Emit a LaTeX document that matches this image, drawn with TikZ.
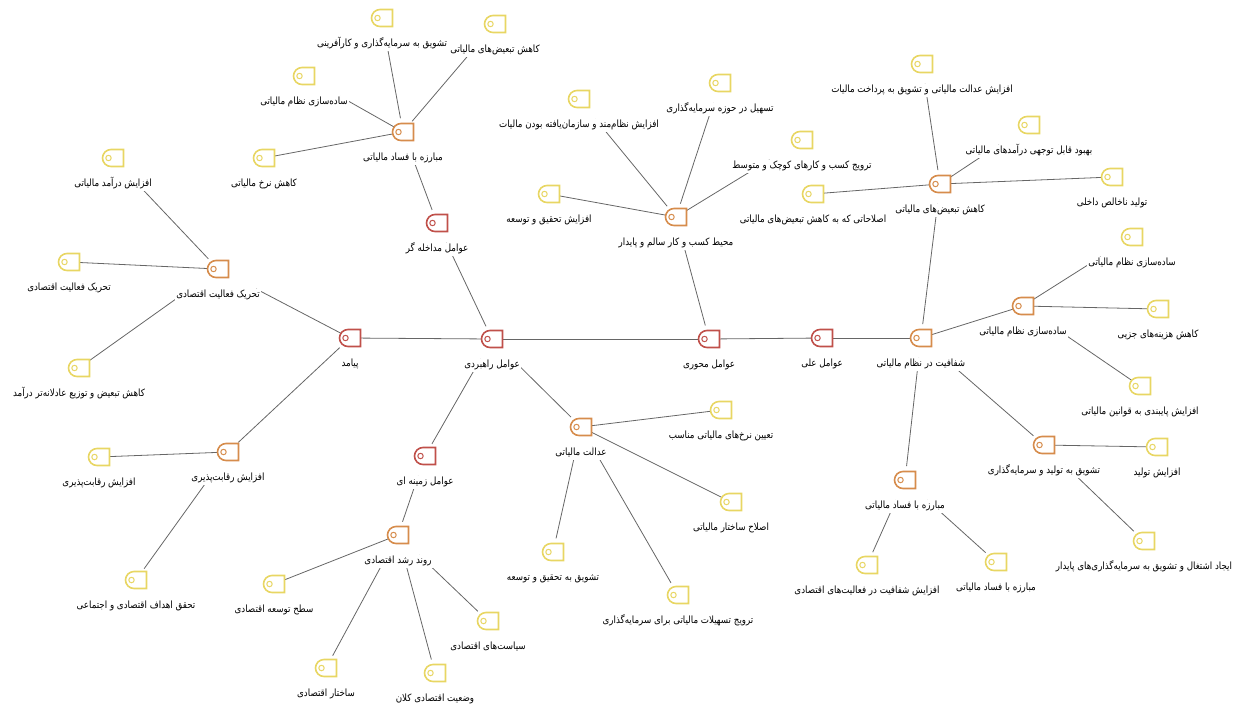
\documentclass[tikz,border=0pt]{standalone}
\usepackage{fontspec}
\usetikzlibrary{shapes.misc,backgrounds}
\TeXXeTstate=1
\newfontfamily\arabicfont[Script=Arabic,FakeStretch=0.87]{DejaVu Sans}
\definecolor{rootcol}{HTML}{C0504A}
\definecolor{midcol}{HTML}{D68C4C}
\definecolor{leafcol}{HTML}{E8D663}
\begin{document}
\begin{tikzpicture}[x=1pt,y=-1pt,
  icon/.style ={rounded rectangle, rounded rectangle right arc=none, fill=white, draw=#1,
  line width=1.6pt, minimum width=21pt, minimum height=17pt, inner sep=0pt,
  path picture={\draw[#1, line width=1pt] ([xshift=-4.5pt]path picture bounding box.center) circle (2.7pt);}},
  root/.style ={icon=rootcol},
  mid/.style ={icon=midcol},
  leaf/.style ={icon=leafcol},
  tag/.style ={fill=white, text=black, inner sep=1pt, text height=8pt, text depth=3.5pt,
  font=\arabicfont\fontsize{10}{12}\selectfont},
  every label/.style ={tag, label distance=10pt},
  link/.style ={draw=black!60, line width=0.8pt},
  from/.style ={shorten <=#1pt},
  low/.style ={shorten >=14pt}]
  \useasboundingbox (0,0) rectangle (1234,705);
  \node[root, label=below:\beginR پیامد\endR] (P) at (350,338) {};
  \node[root, label=below:\beginR عوامل راهبردی\endR] (R) at (492,339) {};
  \node[root, label=below:\beginR عوامل محوری\endR] (M) at (709,339) {};
  \node[root, label=below:\beginR عوامل علی\endR] (A) at (822,338) {};
  \node[mid, label=below:\beginR شفافیت در نظام مالیاتی\endR] (S) at (921,338) {};
  \node[root, label=below:\beginR عوامل مداخله گر\endR] (D) at (437,223) {};
  \node[root, label=below:\beginR عوامل زمینه ای\endR] (Z) at (425,456) {};
  \node[mid, label=below:\beginR مبارزه با فساد مالیاتی\endR] (D1) at (403,132) {};
  \node[leaf, label=below:\beginR ساده‌سازی نظام مالیاتی\endR] (D11) at (304,76) {};
  \node[leaf, label=below:\beginR تشویق به سرمایه‌گذاری و کارآفرینی\endR] (D12) at (382,18) {};
  \node[leaf, label=below:\beginR کاهش تبعیض‌های مالیاتی\endR] (D13) at (495,24) {};
  \node[leaf, label=below:\beginR کاهش نرخ مالیاتی\endR] (D14) at (264,158) {};
  \node[mid, label=below:\beginR تحریک فعالیت اقتصادی\endR] (P1) at (218,269) {};
  \node[leaf, label=below:\beginR افزایش درآمد مالیاتی\endR] (P11) at (113,158) {};
  \node[leaf, label=below:\beginR تحریک فعالیت اقتصادی\endR] (P12) at (69,262) {};
  \node[leaf, label=below:\beginR کاهش تبعیض و توزیع عادلانه‌تر درآمد\endR] (P13) at (79,368) {};
  \node[mid, label=below:\beginR افزایش رقابت‌پذیری\endR] (P2) at (228,452) {};
  \node[leaf, label=below:\beginR افزایش رقابت‌پذیری\endR] (P21) at (99,457) {};
  \node[leaf, label=below:\beginR تحقق اهداف اقتصادی و اجتماعی\endR] (P22) at (136,580) {};
  \node[mid, label=below:\beginR روند رشد اقتصادی\endR] (Z1) at (398,535) {};
  \node[leaf, label=below:\beginR سطح توسعه اقتصادی\endR] (Z11) at (274,584) {};
  \node[leaf, label=below:\beginR سیاست‌های اقتصادی\endR] (Z12) at (488,621) {};
  \node[leaf, label=below:\beginR ساختار اقتصادی\endR] (Z13) at (326,668) {};
  \node[leaf, label=below:\beginR وضعیت اقتصادی کلان\endR] (Z14) at (435,673) {};
  \node[mid, label=below:\beginR عدالت مالیاتی\endR] (R1) at (581,427) {};
  \node[leaf, label=below:\beginR تعیین نرخ‌های مالیاتی مناسب\endR] (R11) at (721,410) {};
  \node[leaf, label=below:\beginR اصلاح ساختار مالیاتی\endR] (R12) at (731,502) {};
  \node[leaf, label=below:\beginR ترویج تسهیلات مالیاتی برای سرمایه‌گذاری\endR] (R13) at (678,595) {};
  \node[leaf, label=below:\beginR تشویق به تحقیق و توسعه\endR] (R14) at (553,552) {};
  \node[mid, label=below:\beginR محیط کسب و کار سالم و پایدار\endR] (M1) at (676,217) {};
  \node[leaf, label=below:\beginR افزایش تحقیق و توسعه\endR] (M11) at (549,194) {};
  \node[leaf, label=below:\beginR افزایش نظام‌مند و سازمان‌یافته بودن مالیات\endR] (M12) at (579,99) {};
  \node[leaf, label=below:\beginR تسهیل در حوزه سرمایه‌گذاری\endR] (M13) at (720,83) {};
  \node[leaf, label=below:\beginR ترویج کسب و کارهای کوچک و متوسط\endR] (M14) at (802,140) {};
  \node[mid, label=below:\beginR کاهش تبعیض‌های مالیاتی\endR] (S1) at (940,184) {};
  \node[leaf, label=below:\beginR اصلاحاتی که به کاهش تبعیض‌های مالیاتی\endR] (S11) at (813,194) {};
  \node[leaf, label=below:\beginR افزایش عدالت مالیاتی و تشویق به پرداخت مالیات\endR] (S12) at (922,64) {};
  \node[leaf, label=below:\beginR بهبود قابل توجهی درآمدهای مالیاتی\endR] (S13) at (1029,125) {};
  \node[leaf, label=below:\beginR تولید ناخالص داخلی\endR] (S14) at (1112,177) {};
  \node[mid, label=below:\beginR ساده‌سازی نظام مالیاتی\endR] (S2) at (1023,306) {};
  \node[leaf, label=below:\beginR ساده‌سازی نظام مالیاتی\endR] (S21) at (1132,237) {};
  \node[leaf, label=below:\beginR کاهش هزینه‌های جزیی\endR] (S22) at (1158,309) {};
  \node[leaf, label=below:\beginR افزایش پایبندی به قوانین مالیاتی\endR] (S23) at (1140,386) {};
  \node[mid, label=below:\beginR تشویق به تولید و سرمایه‌گذاری\endR] (S3) at (1044,445) {};
  \node[leaf, label=below:\beginR افزایش تولید\endR] (S31) at (1157,447) {};
  \node[leaf, label=below:\beginR ایجاد اشتغال و تشویق به سرمایه‌گذاری‌های پایدار\endR] (S32) at (1144,541) {};
  \node[mid, label=below:\beginR مبارزه با فساد مالیاتی\endR] (S4) at (905,480) {};
  \node[leaf, label=below:\beginR افزایش شفافیت در فعالیت‌های اقتصادی\endR] (S41) at (867,565) {};
  \node[leaf, label=below:\beginR مبارزه با فساد مالیاتی\endR] (S42) at (996,562) {};
  \begin{scope}[on background layer, every edge/.style={link}]
  \path (P.center) edge (R.center) (R.center) edge (M.center) (M.center) edge (A.center) (A.center) edge (S.center);
  \path (D.center) edge[from=22, low] (R.center) (R.center) edge[from=23, low] (Z.center) (R.center) edge[from=29, low] (R1.center);
  \path (D1.center) edge[from=22, low] (D.center) (Z.center) edge[from=21, low] (Z1.center) (M1.center) edge[from=21, low] (M.center);
  \path (P1.center) edge[from=43] (P.center) (P.center) edge[from=14, low] (P2.center);
  \path (S1.center) edge[from=20, low] (S.center) (S2.center) edge (S.center) (S.center) edge[from=31, low] (S3.center) (S.center) edge[from=20, low] (S4.center);
  \path (D11.center) edge[from=41] (D1.center) (D12.center) edge[from=21, low] (D1.center) (D13.center) edge[from=27, low] (D1.center) (D1.center) edge (D14.center);
  \path (P11.center) edge[from=28, low] (P1.center) (P12.center) edge (P1.center) (P1.center) edge[from=35] (P13.center);
  \path (P2.center) edge (P21.center) (P2.center) edge[from=25, low] (P22.center);
  \path (Z1.center) edge (Z11.center) (Z1.center) edge[from=29, low] (Z12.center) (Z1.center) edge[from=23, low] (Z13.center) (Z1.center) edge[from=21, low] (Z14.center);
  \path (R1.center) edge (R11.center) (R1.center) edge (R12.center) (R1.center) edge[from=23, low] (R13.center) (R1.center) edge[from=21, low] (R14.center);
  \path (M1.center) edge (M11.center) (M12.center) edge[from=26, low] (M1.center) (M13.center) edge[from=21, low] (M1.center) (M14.center) edge[from=38] (M1.center);
  \path (S1.center) edge (S11.center) (S12.center) edge[from=20, low] (S1.center) (S13.center) edge[from=36] (S1.center) (S1.center) edge (S14.center);
  \path (S21.center) edge[from=37] (S2.center) (S2.center) edge (S22.center) (S2.center) edge[from=36] (S23.center);
  \path (S3.center) edge (S31.center) (S3.center) edge[from=29, low] (S32.center);
  \path (S4.center) edge[from=22, low] (S41.center) (S4.center) edge[from=30, low] (S42.center);
  \end{scope}
\end{tikzpicture}
\end{document}
